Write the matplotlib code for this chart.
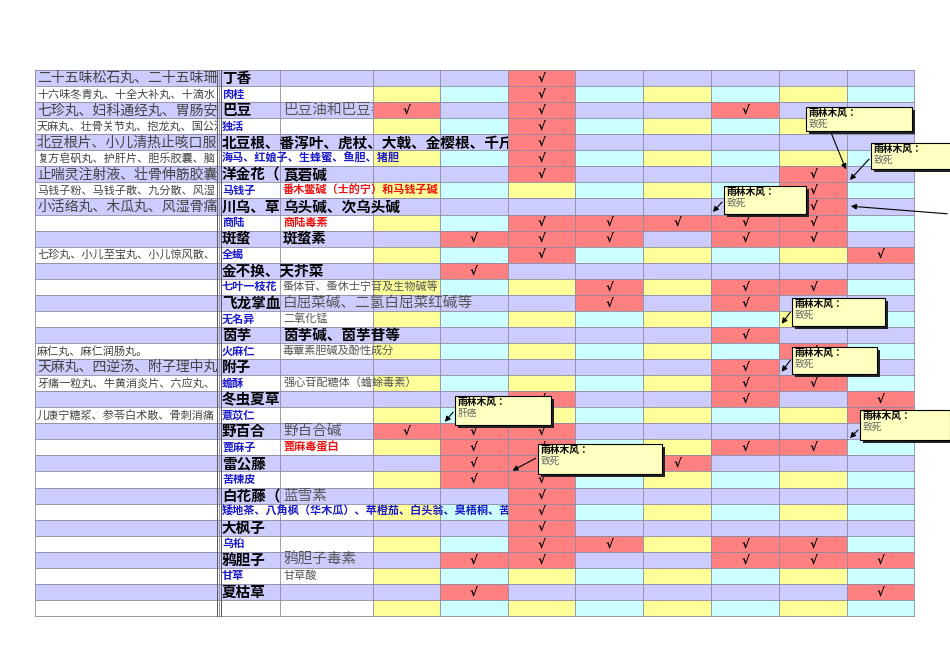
import matplotlib
matplotlib.use("Agg")
import matplotlib.pyplot as plt
from matplotlib.patches import Rectangle
from matplotlib.transforms import Bbox, TransformedBbox

FONT = "Noto Sans CJK JP"

products = ["二十五味松石丸、二十五味珊瑚丸", "十六味冬青丸、十全大补丸、十滴水", "七珍丸、妇科通经丸、胃肠安丸",
            "天麻丸、壮骨关节丸、抱龙丸、国公酒", "北豆根片、小儿清热止咳口服液", "复方皂矾丸、护肝片、胆乐胶囊、脑",
            "止喘灵注射液、壮骨伸筋胶囊、", "马钱子粉、马钱子散、九分散、风湿", "小活络丸、木瓜丸、风湿骨痛胶囊",
            "", "", "七珍丸、小儿至宝丸、小儿惊风散、", "", "", "", "", "", "麻仁丸、麻仁润肠丸。",
            "天麻丸、四逆汤、附子理中丸、", "牙痛一粒丸、牛黄消炎片、六应丸、", "", "儿康宁糖浆、参苓白术散、骨刺消痛",
            "", "", "", "", "", "", "", "", "", "", "", ""]
herbs = ["丁香", "肉桂", "巴豆", "独活", "北豆根、番泻叶、虎杖、大戟、金樱根、千斤拔、",
         "海马、红娘子、生蜂蜜、鱼胆、猪胆", "洋金花（曼陀罗）", "马钱子", "川乌、草乌", "商陆", "斑蝥", "全蝎",
         "金不换、天芥菜", "七叶一枝花", "飞龙掌血", "无名异", "茵芋", "火麻仁", "附子", "蟾酥", "冬虫夏草",
         "薏苡仁", "野百合", "蓖麻子", "雷公藤", "苦楝皮", "白花藤（白花丹）",
         "矮地茶、八角枫（华木瓜）、苹橙茄、白头翁、臭梧桐、苦参", "大枫子", "乌桕", "鸦胆子", "甘草", "夏枯草", ""]
components = ["", "", "巴豆油和巴豆毒素", "", "", "", "莨菪碱", "番木鳖碱（士的宁）和马钱子碱", "乌头碱、次乌头碱",
              "商陆毒素", "斑蝥素", "", "", "蚤体苷、蚤休士宁苷及生物碱等", "白屈菜碱、二氢白屈菜红碱等", "二氧化锰",
              "茵芋碱、茵芋苷等", "毒蕈素胆碱及酚性成分", "", "强心苷配糖体（蟾蜍毒素）", "", "", "野百合碱",
              "蓖麻毒蛋白", "", "", "蓝雪素", "", "", "", "鸦胆子毒素", "甘草酸", "", ""]
red_components = {"番木鳖碱（士的宁）和马钱子碱", "商陆毒素", "蓖麻毒蛋白"}
bold_components = {"乌头碱、次乌头碱", "斑蝥素", "茵芋碱、茵芋苷等", "莨菪碱"}
# checked toxicity columns (0..7) per row
checks = [[2], [2], [0, 2, 5], [2], [2], [2], [2, 6], [6], [6], [2, 3, 4, 5, 6],
          [1, 2, 3, 5, 6], [2, 7], [1], [3, 5, 6], [3, 5], [], [5], [6], [5], [5, 6],
          [2, 5, 7], [7], [0, 1, 2], [1, 2, 5, 6], [1, 2, 4], [1, 2], [2], [2], [2],
          [2, 3, 5, 6], [1, 2, 5, 6, 7], [], [1, 7], []]
notes = [("雨林木风：", "致死", (806, 107, 106, 24), (830, 130), (847, 172)),
         ("雨林木风：", "致死", (871, 143, 90, 26), (871, 157), (848, 182)),
         ("雨林木风：", "致死", (724, 186, 82, 28), (724, 200), (711, 214)),
         ("雨林木风：", "致死", (792, 298, 93, 28), (792, 310), (780, 326)),
         ("雨林木风：", "致死", (792, 347, 85, 27), (792, 358), (780, 374)),
         ("雨林木风：", "肝癌", (455, 396, 96, 29), (455, 410), (443, 424)),
         ("雨林木风：", "致死", (860, 410, 90, 30), (860, 428), (848, 440)),
         ("雨林木风：", "致死", (538, 444, 124, 30), (538, 457), (510, 472))]

fig = plt.figure(figsize=(9.5, 6.72), dpi=100)
ax = fig.add_axes([0, 0, 1, 1])
ax.set_xlim(0, 950); ax.set_ylim(672, 0); ax.axis("off")

xs = [35, 219, 280, 373, 440, 508, 575, 643, 711, 779, 847, 914]
y0, y1 = 70, 616
n = len(herbs)
rh = (y1 - y0) / n
LAV, YEL, CYA, RED = "#ccccff", "#ffff99", "#ccffff", "#ff8080"

for i in range(n):
    top = y0 + i * rh
    odd = i % 2 == 0
    for c in range(11):
        if odd:
            col = LAV
        elif c < 3:
            col = "white"
        else:
            col = YEL if (c - 3) % 2 == 0 else CYA
        if c >= 3 and (c - 3) in checks[i]:
            col = RED
        ax.add_patch(Rectangle((xs[c], top), xs[c + 1] - xs[c], rh, fc=col, ec="none", zorder=0))
    for k in checks[i]:
        ax.text((xs[k + 3] + xs[k + 4]) / 2, top + rh / 2, "√", ha="center", va="center",
                fontsize=8.5, fontweight="bold", fontfamily="DejaVu Sans", zorder=3)

for i in range(n + 1):
    ax.plot([35, 914], [y0 + i * rh] * 2, color="#8a8aa0", lw=0.6, zorder=1)
for x in xs:
    ax.plot([x, x], [y0, y1], color="#8a8aa0", lw=0.6, zorder=1)
ax.plot([217, 217], [y0, y1], color="#555555", lw=0.7, zorder=1)
ax.plot([221, 221], [y0, y1], color="#555555", lw=0.7, zorder=1)


def clip_text(x, y, s, right, **kw):
    t = ax.text(x, y, s, va="center", ha="left", fontfamily=FONT, zorder=2, **kw)
    t.set_clip_path(None)
    t.set_clip_box(TransformedBbox(Bbox([[x - 2, y - rh], [right, y + rh]]), ax.transData))
    t.set_clip_on(True)


for i in range(n):
    yc = y0 + i * rh + rh / 2
    odd = i % 2 == 0
    if products[i]:
        clip_text(37, yc, products[i], 217, fontsize=10 if odd else 8, color="#444444")
    if herbs[i]:
        first = min(checks[i]) if checks[i] else 8
        right = xs[2] if components[i] else xs[first + 3]
        if odd:
            clip_text(222, yc, herbs[i], right, fontsize=10.5, fontweight="bold", color="black")
        else:
            clip_text(222, yc, herbs[i], right, fontsize=8, fontweight="bold", color="#1a1acc")
    if components[i]:
        first = min(checks[i]) if checks[i] else 8
        right = xs[first + 3]
        s = components[i]
        if s in red_components:
            kw = dict(fontsize=8, fontweight="bold", color="#ee1111")
        elif s in bold_components:
            kw = dict(fontsize=10.5, fontweight="bold", color="black")
        else:
            kw = dict(fontsize=10.5 if odd else 8, color="#555555")
        clip_text(283, yc, s, right, **kw)

for title, body, (bx, by, bw, bh), (sx, sy), (ex, ey) in notes:
    ax.add_patch(Rectangle((bx + 3, by + 3), bw, bh, fc="#222222", ec="none", zorder=5))
    ax.add_patch(Rectangle((bx, by), bw, bh, fc="#ffffc0", ec="black", lw=0.8, zorder=6))
    ax.text(bx + 3, by + 1, title, fontsize=7, fontweight="bold", fontfamily=FONT, va="top", zorder=7)
    ax.text(bx + 3, by + 12, body, fontsize=7, color="#666666", fontfamily=FONT, va="top", zorder=7)
    ax.annotate("", xy=(ex, ey), xytext=(sx, sy),
                arrowprops=dict(arrowstyle="-|>", color="black", lw=0.8, mutation_scale=8), zorder=4)
ax.annotate("", xy=(848, 206), xytext=(950, 214),
            arrowprops=dict(arrowstyle="-|>", color="black", lw=0.8, mutation_scale=8))

fig.savefig("out.png", dpi=100, facecolor="white")
